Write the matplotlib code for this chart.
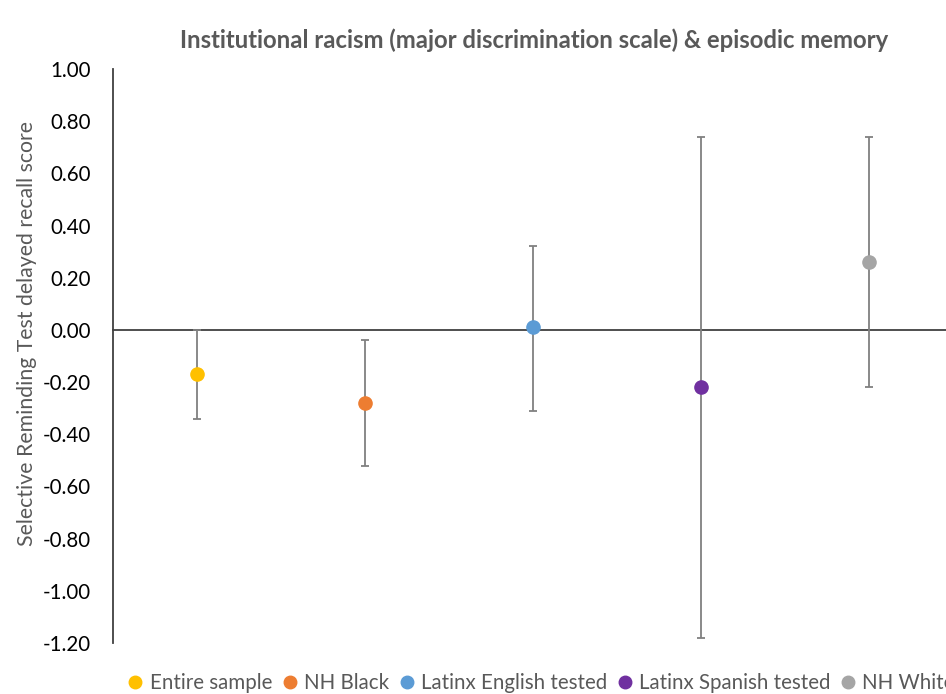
import matplotlib
matplotlib.use("Agg")
import matplotlib.pyplot as plt
import numpy as np

categories = ["Entire sample", "NH Black", "Latinx English tested", "Latinx Spanish tested", "NH White"]
estimates = [-0.17, -0.28, 0.01, -0.22, 0.26]
ci_low = [-0.34, -0.52, -0.31, -1.18, -0.22]
ci_high = [0.00, -0.04, 0.32, 0.74, 0.74]
colors = ["#FFC000", "#ED7D31", "#5B9BD5", "#7030A0", "#A5A5A5"]
yticks = [1.00, 0.80, 0.60, 0.40, 0.20, 0.00, -0.20, -0.40, -0.60, -0.80, -1.00, -1.20]

plt.rcParams['font.family'] = ['Lato', 'DejaVu Sans']

W, H = 946, 694
fig = plt.figure(figsize=(W / 100, H / 100), dpi=100)
ax = fig.add_axes([113 / W, 1 - 643 / H, 840 / W, (643 - 69) / H])

x = np.arange(len(categories))
for i in range(len(categories)):
    ax.errorbar(x[i], estimates[i],
                yerr=[[estimates[i] - ci_low[i]], [ci_high[i] - estimates[i]]],
                fmt='o', color=colors[i], markersize=9.5, ecolor='#808080',
                elinewidth=1.3, capsize=3, capthick=1.3, label=categories[i], zorder=3)

ax.set_xlim(-0.5, len(categories) - 0.5)
ax.set_ylim(-1.20, 1.00)
ax.set_yticks(yticks)
ax.set_yticklabels([f"{v:.2f}" for v in yticks], fontsize=14.8, color='black')
ax.tick_params(axis='y', length=0, pad=16)
ax.set_xticks([])
ax.spines['top'].set_visible(False)
ax.spines['right'].set_visible(False)
ax.spines['bottom'].set_position(('data', 0))
ax.spines['bottom'].set_color('#404040')
ax.spines['bottom'].set_linewidth(1.3)
ax.spines['left'].set_color('#404040')
ax.spines['left'].set_linewidth(1.3)

ax.set_ylabel("Selective Reminding Test delayed recall score", fontsize=15.3, color='#595959')
ax.yaxis.set_label_coords((37 - 113) / 840, (643 - 333) / 574)

fig.text(534 / W, 1 - 40 / H, "Institutional racism (major discrimination scale) & episodic memory",
         ha='center', va='center', fontsize=17.2, fontweight='bold', color='#595959')

handles = [plt.Line2D([], [], marker='o', linestyle='', color=c, markersize=9) for c in colors]
leg = fig.legend(handles, categories, loc='center left', bbox_to_anchor=(123 / W, 1 - 683 / H),
                 ncol=5, frameon=False, fontsize=14.8, handletextpad=0.1, columnspacing=0.25,
                 handlelength=1.2, borderaxespad=0, borderpad=0)
for t in leg.get_texts():
    t.set_color('#595959')

fig.savefig("out.png", dpi=100)
